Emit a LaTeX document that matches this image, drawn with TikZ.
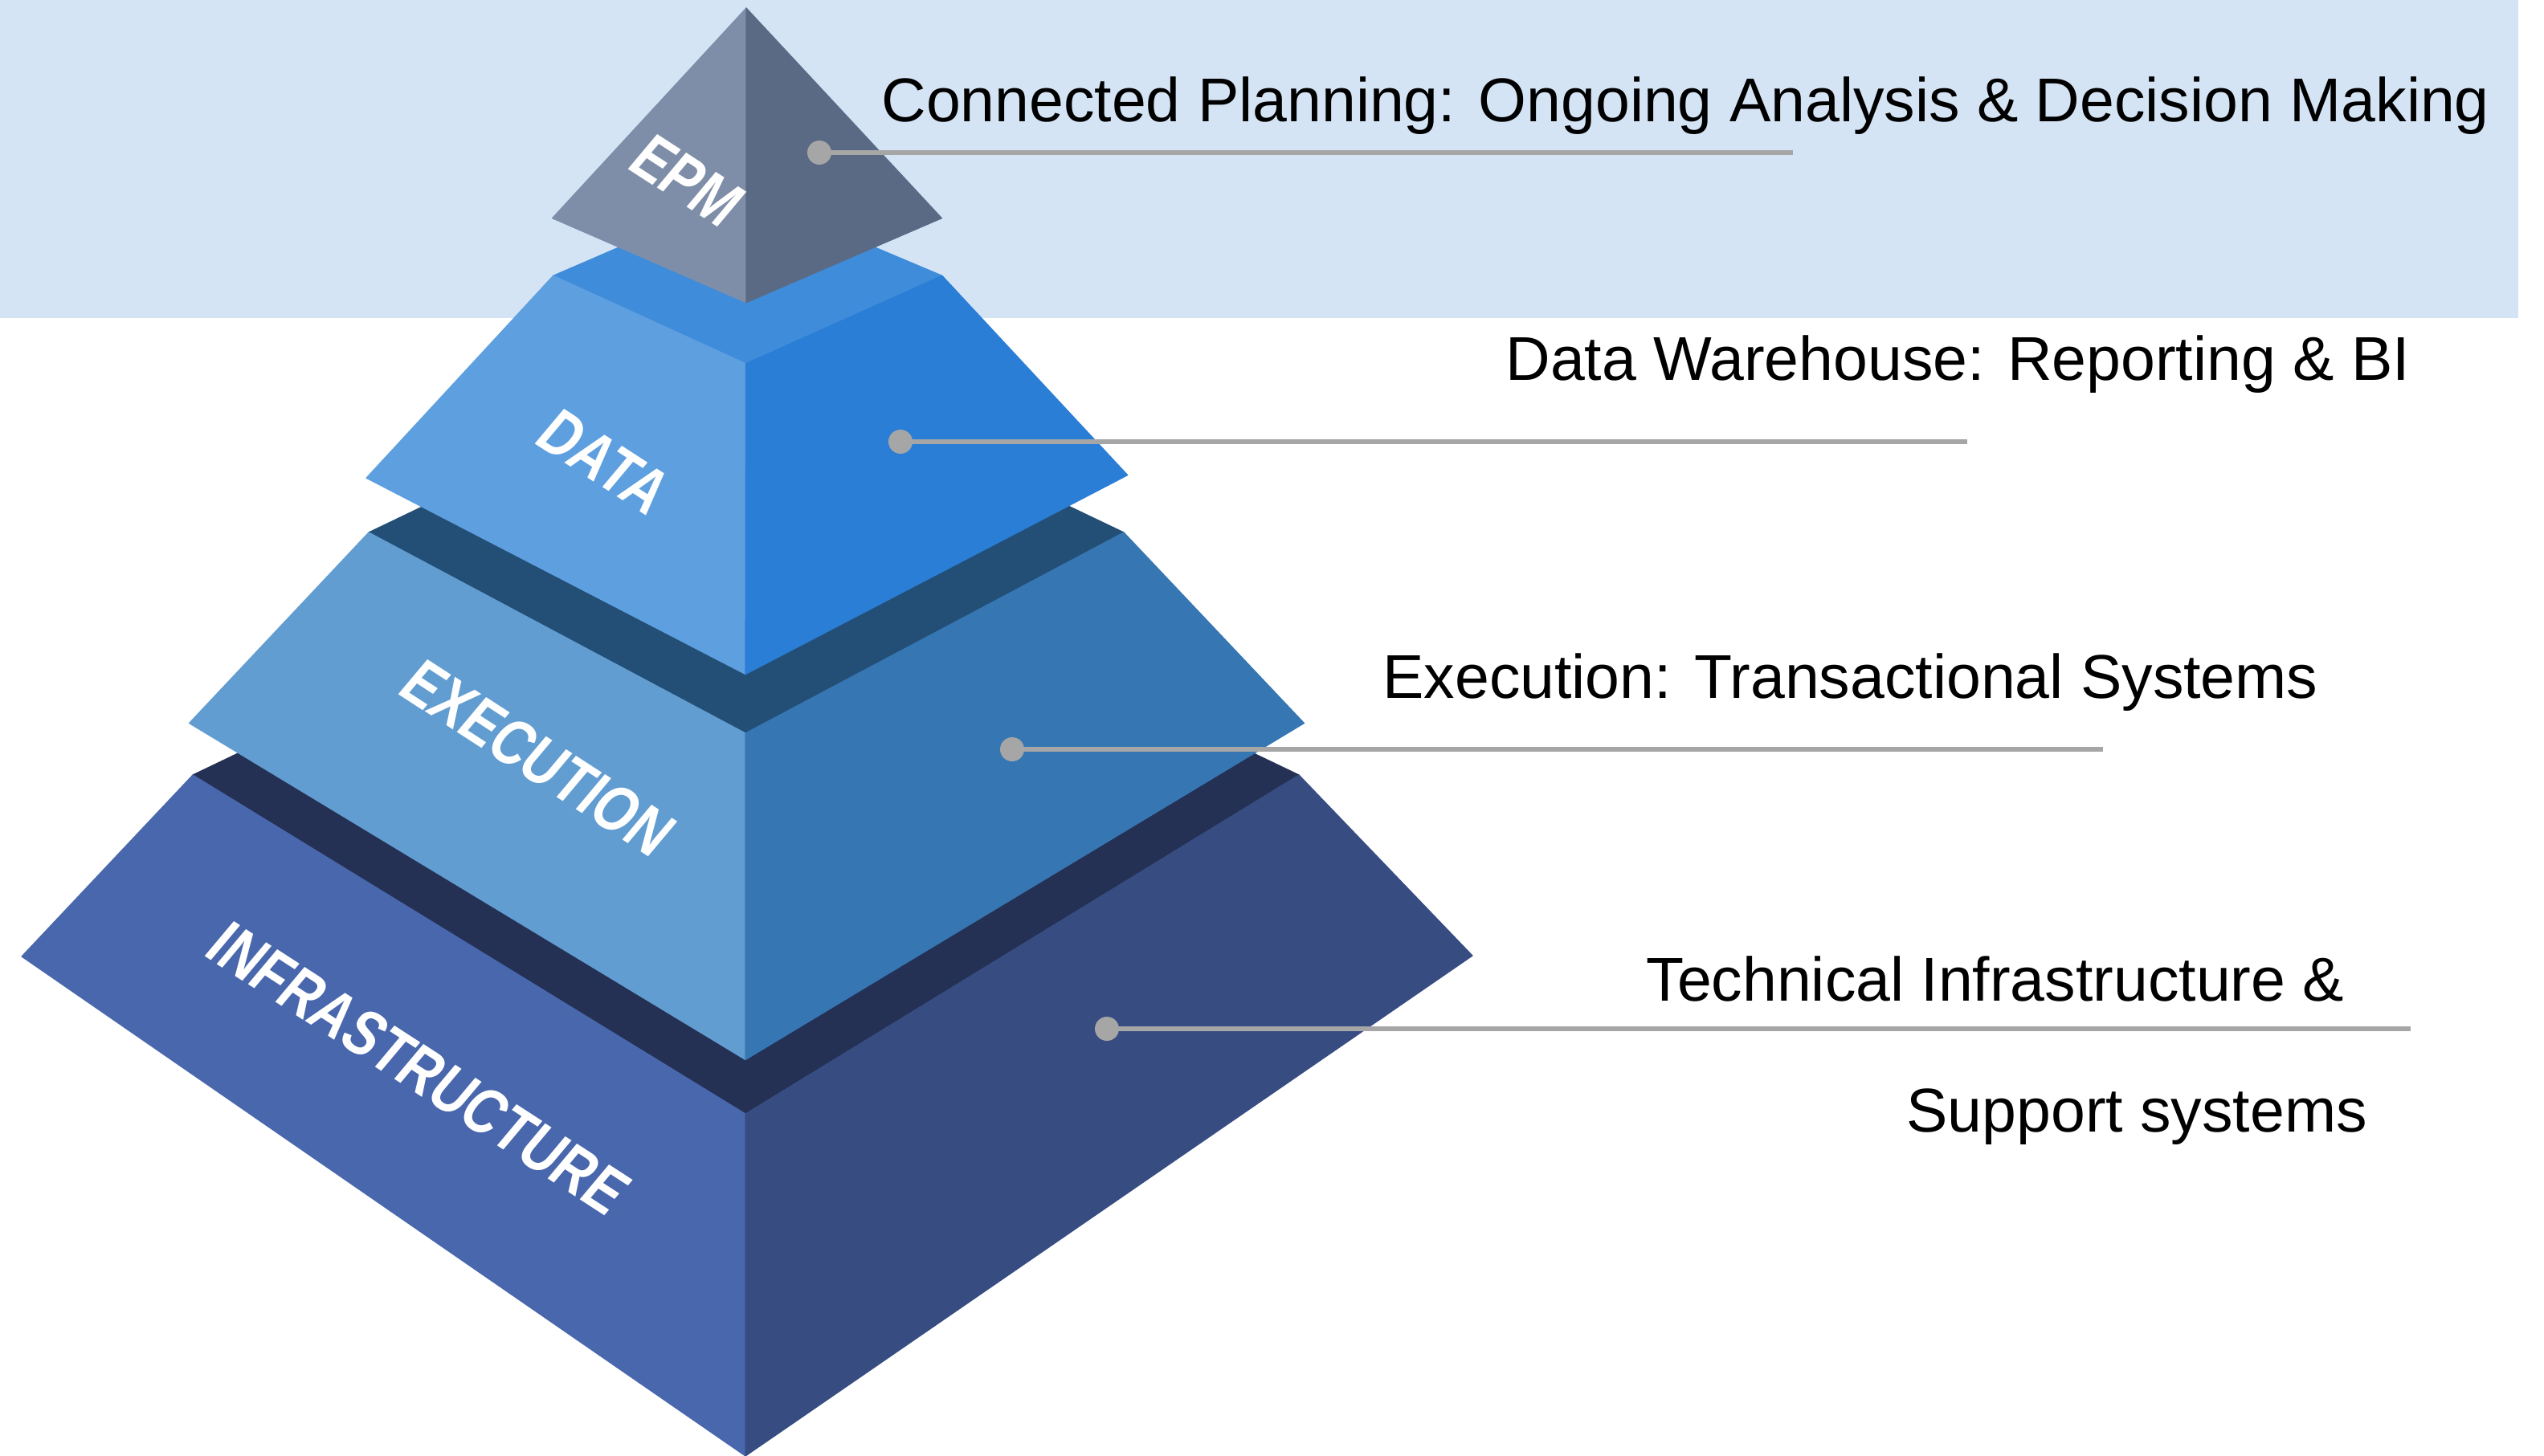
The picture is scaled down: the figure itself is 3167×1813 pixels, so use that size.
\documentclass[tikz,border=0pt]{standalone}
\usepackage{fontspec}
\setmainfont{Liberation Sans}
\definecolor{bandblue}{HTML}{D5E4F5}
\definecolor{dotgray}{HTML}{A6A6A6}
\definecolor{epmL}{HTML}{7F8EA8}
\definecolor{epmR}{HTML}{5A6A85}
\definecolor{dataT}{HTML}{3F8CDA}
\definecolor{dataL}{HTML}{5E9FDF}
\definecolor{dataR}{HTML}{2A7ED6}
\definecolor{execT}{HTML}{234F77}
\definecolor{execL}{HTML}{629DD1}
\definecolor{execR}{HTML}{3677B3}
\definecolor{infT}{HTML}{243154}
\definecolor{infL}{HTML}{4967AD}
\definecolor{infR}{HTML}{374D82}
\begin{document}
\begin{tikzpicture}[x=0.5pt,y=-0.5pt,
  face/.style={fill=#1, draw=#1, line width=0.6pt, line join=round},
  lbl/.style={text=white, font=\fontsize{41.2}{41.2}\selectfont\bfseries, inner sep=0pt, anchor=base west, cm={0.6626,-0.4302,0.6428,0.7660,(0,0)}},
  desc/.style={text=black, font=\fontsize{38.5}{46}\selectfont, inner sep=0pt, anchor=base west},
  bullet/.style={circle, fill=dotgray, minimum size=15pt, inner sep=0pt},
  leader/.style={draw=dotgray, line width=3pt}]
\useasboundingbox (0,0) rectangle (3167,1813);
% background band
\fill[bandblue] (0,0) rectangle (3135,395.7);
% INFRASTRUCTURE layer
\filldraw[face=infT] (240,965) -- (928,635) -- (1617,965) -- (928,1387) -- cycle;
\filldraw[face=infL] (240,965) -- (928,1387) -- (928,1813) -- (27,1191) -- cycle;
\filldraw[face=infR] (1617,965) -- (928,1387) -- (928,1813) -- (1833,1190) -- cycle;
% EXECUTION layer
\filldraw[face=execT] (459,663) -- (928,438) -- (1399,663) -- (928,913) -- cycle;
\filldraw[face=execL] (459,663) -- (928,913) -- (928,1319.5) -- (235.5,900.5) -- cycle;
\filldraw[face=execR] (1399,663) -- (928,913) -- (928,1319.5) -- (1623.5,900.5) -- cycle;
% DATA layer
\filldraw[face=dataT] (688.7,343.3) -- (928,240) -- (1172.8,343.3) -- (928.5,452.8) -- cycle;
\filldraw[face=dataL] (688.7,343.3) -- (928.5,452.8) -- (928,839.5) -- (456,595.2) -- cycle;
\filldraw[face=dataR] (1172.8,343.3) -- (928.5,452.8) -- (928,839.5) -- (1403.7,591.6) -- cycle;
% EPM pyramid
\filldraw[face=epmL] (929,10) -- (687.5,271.7) -- (929,376.7) -- cycle;
\filldraw[face=epmR] (929,10) -- (1172.4,271.7) -- (929,376.7) -- cycle;
% layer labels
\node[lbl] (lEPM) at (778,208) {EPM};
\node[lbl] (lDATA) at (662,550) {DATA};
\node[lbl] (lEXEC) at (492,862) {EXECUTION};
\node[lbl] (lINF) at (251,1188) {INFRASTRUCTURE};
% descriptions
\node[desc] (tEPM) at (1097,151.7) {Connected Planning: Ongoing Analysis \& Decision Making};
\node[desc] (tDATA) at (1874,473.3) {Data Warehouse: Reporting \& BI};
\node[desc] (tEXEC) at (1721,869.6) {Execution: Transactional Systems};
\node[desc] (tINF1) at (2049,1246.9) {Technical Infrastructure \&};
\node[desc] (tINF2) at (2373,1409.8) {Support systems};
% leaders
\node[bullet] (dEPM) at (1020,190) {};
\node[bullet] (dDATA) at (1121,550) {};
\node[bullet] (dEXEC) at (1260,933) {};
\node[bullet] (dINF) at (1378,1281) {};
\coordinate (eEPM) at (2232,190);
\coordinate (eDATA) at (2449,550);
\coordinate (eEXEC) at (2618,933);
\coordinate (eINF) at (3001,1281);
\draw[leader] (dEPM.center) -- (eEPM);
\draw[leader] (dDATA.center) -- (eDATA);
\draw[leader] (dEXEC.center) -- (eEXEC);
\draw[leader] (dINF.center) -- (eINF);
\end{tikzpicture}
\end{document}
